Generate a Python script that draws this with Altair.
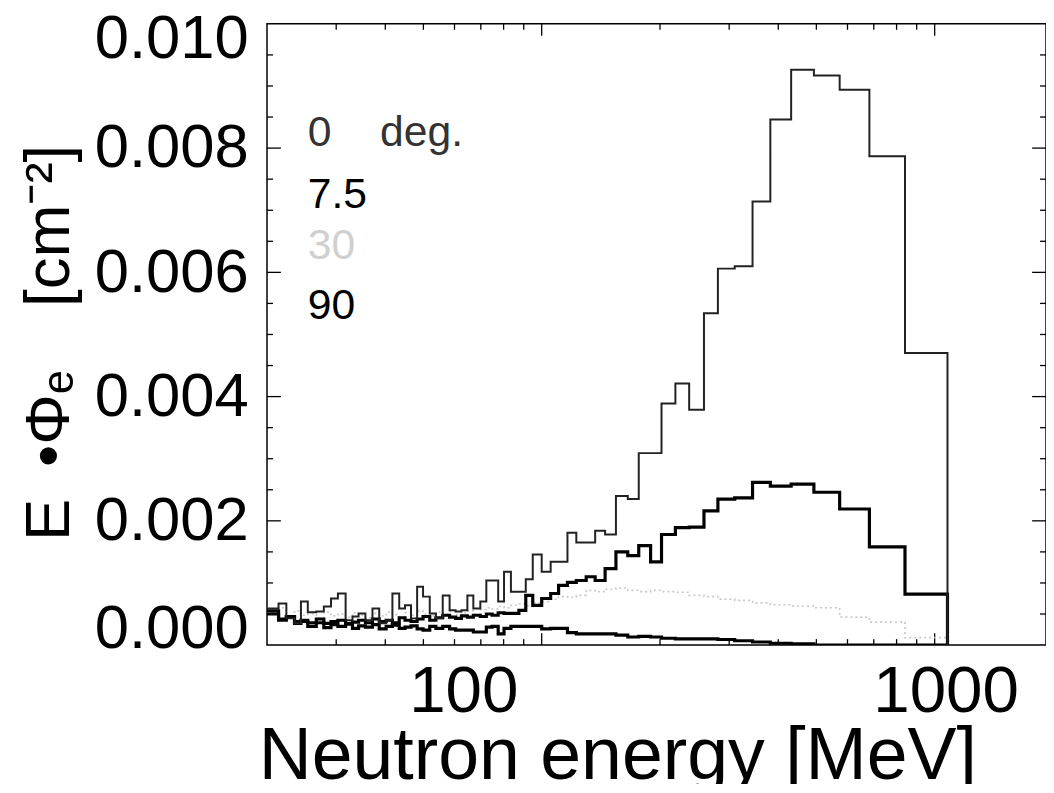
import altair as alt
import pandas as pd

# ---------------- data ----------------
# bin edges [MeV]
edges = [20, 21.4, 22.4, 23.5, 24.4, 25.4, 26.7, 27.9, 29.1, 30.3, 31.7, 33.0, 34.2,
         35.6, 37.1, 38.6, 40.2, 41.7, 43.4, 44.9, 46.5, 48.2, 49.9, 51.9, 53.8, 56.0,
         58.3, 60.4, 62.5, 64.7, 67.0, 69.8, 72.3, 74.8, 77.5, 80.2, 83.5, 87.5, 91.1,
         94.9, 100, 105.4, 110.4, 116.3, 122.5, 129.8, 136.8, 145.0, 154.5, 165.6,
         176.6, 189.3, 201.8, 218.9, 237.3, 258.8, 280.8, 309.9, 344.0, 381.8, 431.3,
         492.8, 573.1, 682.2, 840.4, 1078]

flux_0 = [0.00059, 0.00067, 0.00043, 0.00035, 0.00070, 0.00053, 0.00054, 0.00062, 0.00075, 0.00083,
          0.00040, 0.00046, 0.00051, 0.00040, 0.00059, 0.00035, 0.00040, 0.00083, 0.00059, 0.00064,
          0.00043, 0.00094, 0.00078, 0.00051, 0.00043, 0.00080, 0.00056, 0.00054, 0.00056, 0.00080,
          0.00059, 0.00070, 0.00104, 0.00104, 0.00070, 0.00118, 0.00086, 0.00086, 0.00106, 0.00146,
          0.00118, 0.00134, 0.00134, 0.00181, 0.00165, 0.00165, 0.00184, 0.00178, 0.00240, 0.00235,
          0.00309, 0.00309, 0.00389, 0.00421, 0.00379, 0.00534, 0.00606, 0.00610, 0.00714, 0.00846,
          0.00926, 0.00917, 0.00894, 0.00787, 0.00470]

flux_7_5 = [0.00050, 0.00042, 0.00045, 0.00038, 0.00040, 0.00036, 0.00042, 0.00035, 0.00038, 0.00040,
            0.00034, 0.00037, 0.00040, 0.00036, 0.00042, 0.00038, 0.00040, 0.00036, 0.00044, 0.00040,
            0.00038, 0.00042, 0.00046, 0.00040, 0.00044, 0.00048, 0.00045, 0.00043, 0.00047, 0.00045,
            0.00048, 0.00046, 0.00050, 0.00048, 0.00052, 0.00051, 0.00051, 0.00056, 0.00080, 0.00064,
            0.00075, 0.00083, 0.00096, 0.00101, 0.00104, 0.00110, 0.00104, 0.00123, 0.00150, 0.00144,
            0.00160, 0.00134, 0.00178, 0.00189, 0.00190, 0.00216, 0.00235, 0.00237, 0.00262, 0.00256,
            0.00259, 0.00246, 0.00219, 0.00158, 0.00082]

flux_30 = [0.00052, 0.00060, 0.00046, 0.00055, 0.00048, 0.00050, 0.00044, 0.00053, 0.00047, 0.00050,
           0.00045, 0.00052, 0.00048, 0.00044, 0.00051, 0.00047, 0.00053, 0.00049, 0.00046, 0.00052,
           0.00048, 0.00055, 0.00050, 0.00047, 0.00053, 0.00050, 0.00054, 0.00049, 0.00052, 0.00055,
           0.00050, 0.00057, 0.00060, 0.00058, 0.00062, 0.00060, 0.00064, 0.00066, 0.00063, 0.00068,
           0.00070, 0.00074, 0.00078, 0.00077, 0.00080, 0.00088, 0.00086, 0.00090, 0.00092, 0.00088,
           0.00086, 0.00088, 0.00086, 0.00085, 0.00080, 0.00078, 0.00074, 0.00072, 0.00068, 0.00065,
           0.00063, 0.00060, 0.00045, 0.00037, 0.00012]

flux_90 = [0.00055, 0.00040, 0.00046, 0.00035, 0.00038, 0.00030, 0.00036, 0.00028, 0.00033, 0.00030,
           0.00034, 0.00027, 0.00031, 0.00029, 0.00033, 0.00026, 0.00030, 0.00032, 0.00027, 0.00029,
           0.00031, 0.00026, 0.00024, 0.00030, 0.00027, 0.00030, 0.00026, 0.00024, 0.00024, 0.00024,
           0.00021, 0.00021, 0.00029, 0.00030, 0.00018, 0.00027, 0.00030, 0.00030, 0.00030, 0.00030,
           0.00026, 0.00027, 0.00027, 0.00020, 0.00018, 0.00018, 0.00018, 0.00018, 0.00016, 0.00013,
           0.00014, 0.00013, 0.00011, 0.00010, 0.00010, 0.00010, 0.00009, 0.00007, 0.00005, 0.00003,
           0.00002, 0.0, 0.0, 0.0, 0.0]

angle_labels = ["0", "7.5", "30", "90"]
x_tick_labels = [100, 1000]
y_tick_labels = [0.000, 0.002, 0.004, 0.006, 0.008, 0.010]
x_minor = [30, 40, 50, 60, 70, 80, 90, 200, 300, 400, 500, 600, 700, 800, 900]
y_minor = [0.0005, 0.001, 0.0015, 0.0025, 0.003, 0.0035, 0.0045, 0.005, 0.0055,
           0.0065, 0.007, 0.0075, 0.0085, 0.009, 0.0095]
y_major_inner = [0.002, 0.004, 0.006, 0.008]

# ---------------- styling ----------------
FONT = "Liberation Sans"
W, H = 785, 626
xscale = alt.Scale(type="log", domain=[20, 1920], nice=False)
yscale = alt.Scale(domain=[0, 0.010], nice=False, zero=False)

xaxis = alt.Axis(
    values=x_tick_labels, format="d", ticks=False, domain=False, grid=False,
    labelFont=FONT, labelFontSize=66, labelColor="black", labelPadding=15,
    labelFlush=False, labelOverlap=False,
    labelOffset={"condition": {"test": "datum.value == 100", "value": -79}, "value": 11},
    title="Neutron energy [MeV]", titleFont=FONT, titleFontSize=74,
    titleFontWeight="normal", titleColor="black", titleX=353, titleY=134,
    titleAlign="center", titleBaseline="alphabetic",
)
yaxis = alt.Axis(
    values=y_tick_labels, format=".3f", ticks=False, domain=False, grid=False,
    labelFont=FONT, labelFontSize=62, labelColor="black", labelPadding=19,
    labelFlush=False, labelOverlap=False,
    labelOffset={"condition": [{"test": "datum.value == 0", "value": -17},
                               {"test": "datum.value > 0.0099", "value": 15}],
                 "value": 0},
    title="E\u2002•Φₑ\u2003[cm⁻²]", titleFont=FONT, titleFontSize=64,
    titleFontWeight="normal", titleColor="black", titleX=-200, titleY=321,
    titleAngle=-90, titleAlign="center", titleBaseline="alphabetic",
)

styles = {
    "30": dict(color="#c8c8c8", strokeWidth=1.6, strokeDash=[2, 3]),
    "90": dict(color="black", strokeWidth=3.2),
    "7.5": dict(color="black", strokeWidth=3.2),
    "0": dict(color="#222222", strokeWidth=2.0),
}
series = {"0": flux_0, "7.5": flux_7_5, "30": flux_30, "90": flux_90}

layers = []
for name in ["30", "90", "7.5", "0"]:
    vals = series[name]
    rows = [{"E": edges[i], "flux": v, "i": i} for i, v in enumerate(vals)]
    rows.append({"E": edges[len(vals)], "flux": 0.0, "i": len(vals)})
    d = pd.DataFrame(rows)
    layers.append(
        alt.Chart(d).mark_line(interpolate="step-after", clip=True, **styles[name]).encode(
            x=alt.X("E:Q", scale=xscale, axis=xaxis),
            y=alt.Y("flux:Q", scale=yscale, axis=yaxis),
            order="i:Q",
        )
    )


def xticks(vals, length, top):
    d = pd.DataFrame({"E": vals})
    if top:
        yy = dict(y=alt.value(0), y2=alt.value(length))
    else:
        yy = dict(y=alt.value(H), y2=alt.value(H - length))
    return alt.Chart(d).mark_rule(color="black", strokeWidth=1.3).encode(
        x=alt.X("E:Q", scale=xscale, axis=xaxis), **yy)


def yticks(vals, length, right):
    d = pd.DataFrame({"flux": vals})
    if right:
        xx = dict(x=alt.value(W), x2=alt.value(W - length))
    else:
        xx = dict(x=alt.value(0), x2=alt.value(length))
    return alt.Chart(d).mark_rule(color="black", strokeWidth=1.3).encode(
        y=alt.Y("flux:Q", scale=yscale, axis=yaxis), **xx)


tick_layers = [
    xticks(x_tick_labels, 12, False), xticks(x_tick_labels, 12, True),
    xticks(x_minor, 6, False), xticks(x_minor, 6, True),
    yticks(y_major_inner, 14, False), yticks(y_major_inner, 14, True),
    yticks(y_minor, 6, False), yticks(y_minor, 6, True),
]

# in-plot legend text
leg = pd.DataFrame({
    "E": [25.4, 38.8, 25.4, 25.4, 25.4],
    "flux": [0.00824, 0.00824, 0.00725, 0.00642, 0.00546],
    "label": [angle_labels[0], "deg.", angle_labels[1], angle_labels[2], angle_labels[3]],
    "c": ["#333333", "#333333", "black", "#d0d0d0", "black"],
})
legend_text = alt.Chart(leg).mark_text(
    align="left", baseline="middle", font=FONT, fontSize=43
).encode(
    x=alt.X("E:Q", scale=xscale, axis=xaxis),
    y=alt.Y("flux:Q", scale=yscale, axis=yaxis),
    text="label:N",
    color=alt.Color("c:N", scale=None),
)

chart = alt.layer(*tick_layers, *layers, legend_text).properties(
    width=W, height=H,
    autosize=alt.AutoSizeParams(type="none"),
    padding={"left": 261, "top": 13, "right": 0, "bottom": 137},
    background="white",
).configure_view(stroke="black", strokeWidth=1.5)

chart.save("out.html", embed_options={"renderer": "svg", "actions": False})
